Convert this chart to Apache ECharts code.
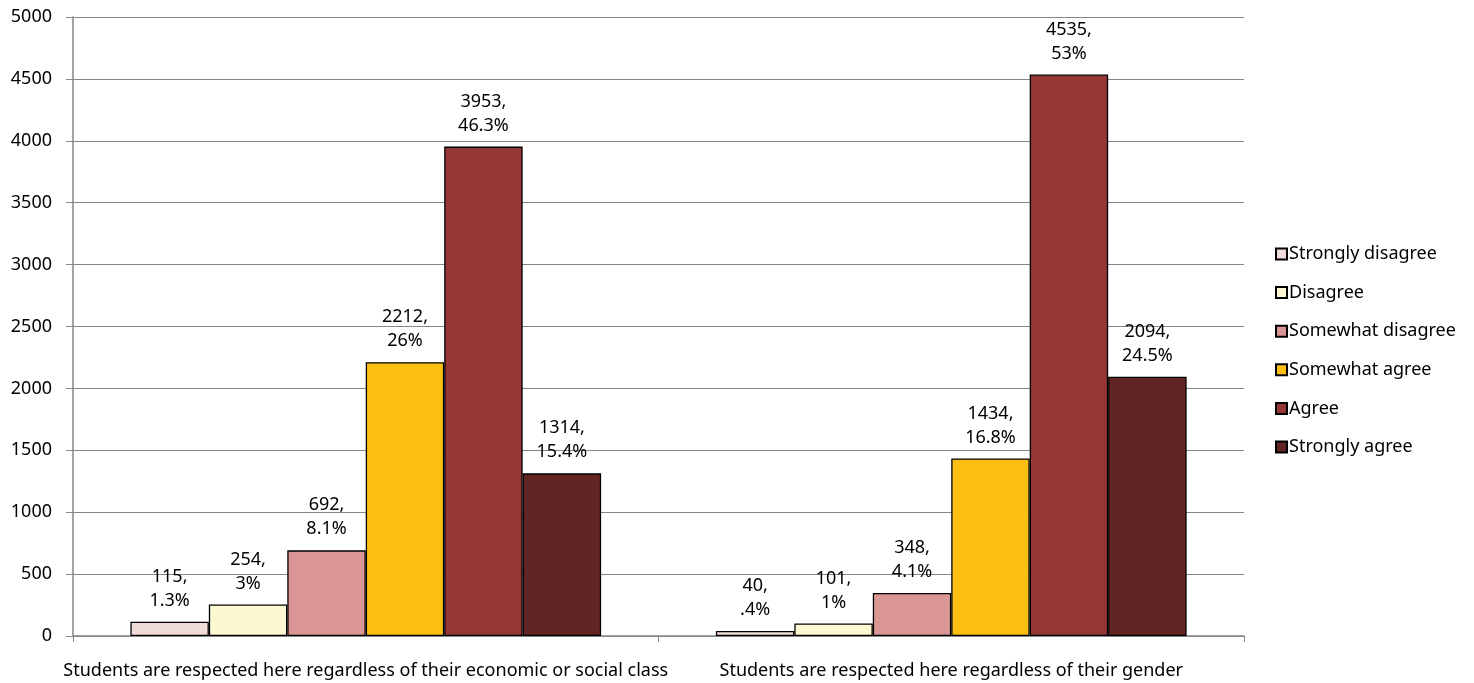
<!DOCTYPE html>
<html>
<head>
<meta charset="utf-8">
<script src="https://cdn.jsdelivr.net/npm/echarts@6/dist/echarts.min.js"></script>
<style>html,body{margin:0;padding:0;background:#fff}#c{width:1474px;height:683px}</style>
</head>
<body>
<div id="c"></div>
<script>
const categories = ["Students are respected here regardless of their economic or social class", "Students are respected here regardless of their gender"];
const seriesNames = ["Strongly disagree", "Disagree", "Somewhat disagree", "Somewhat agree", "Agree", "Strongly agree"];
const stronglyDisagree = [115, 40];
const disagree = [254, 101];
const somewhatDisagree = [692, 348];
const somewhatAgree = [2212, 1434];
const agree = [3953, 4535];
const stronglyAgree = [1314, 2094];
const pctStronglyDisagree = ["1.3%", ".4%"];
const pctDisagree = ["3%", "1%"];
const pctSomewhatDisagree = ["8.1%", "4.1%"];
const pctSomewhatAgree = ["26%", "16.8%"];
const pctAgree = ["46.3%", "53%"];
const pctStronglyAgree = ["15.4%", "24.5%"];
const colors = ["#f2dcdb", "#fcf8d2", "#d99694", "#fcbf12", "#953735", "#632523"];

const values = [stronglyDisagree, disagree, somewhatDisagree, somewhatAgree, agree, stronglyAgree];
const pcts = [pctStronglyDisagree, pctDisagree, pctSomewhatDisagree, pctSomewhatAgree, pctAgree, pctStronglyAgree];
const font = "'Noto Sans', sans-serif";
const fs = 18;

const chart = echarts.init(document.getElementById('c'));
chart.setOption({
  animation: false,
  textStyle: {fontFamily: font, fontSize: fs},
  grid: {left: 73, right: 230, top: 17, bottom: 47},
  legend: {
    orient: 'vertical', left: 1270, top: 240, itemWidth: 11, itemHeight: 11, itemGap: 20.6,
    icon: 'rect',
    textStyle: {fontSize: fs, color: '#000', fontFamily: font, padding: [0,0,0,-3]},
    data: seriesNames
  },
  xAxis: {
    type: 'category', data: categories,
    axisLine: {lineStyle: {color: '#868686', width: 1.5}},
    axisTick: {show: true, length: 6, lineStyle: {color: '#868686'}},
    axisLabel: {fontSize: fs, color: '#000', margin: 26, interval: 0, fontFamily: font},
    splitLine: {show: false}
  },
  yAxis: {
    type: 'value', min: 0, max: 5000, interval: 500,
    axisLine: {show: true, lineStyle: {color: '#868686', width: 1.5}},
    axisTick: {show: true, length: 7, lineStyle: {color: '#868686'}},
    axisLabel: {fontSize: fs, color: '#000', margin: 21, fontFamily: font, formatter: v => String(v)},
    splitLine: {lineStyle: {color: '#868686', width: 1.2}}
  },
  series: seriesNames.map((name, i) => ({
    name: name, type: 'bar',
    data: values[i],
    barGap: '0%', barCategoryGap: '19.6%',
    itemStyle: {color: colors[i], borderColor: '#000', borderWidth: 1.3},
    label: {
      show: true, position: 'top', distance: 9,
      formatter: p => p.value + ',\n' + pcts[i][p.dataIndex],
      fontSize: fs, lineHeight: 24, color: '#000', fontFamily: font
    }
  }))
});
</script>
</body>
</html>
